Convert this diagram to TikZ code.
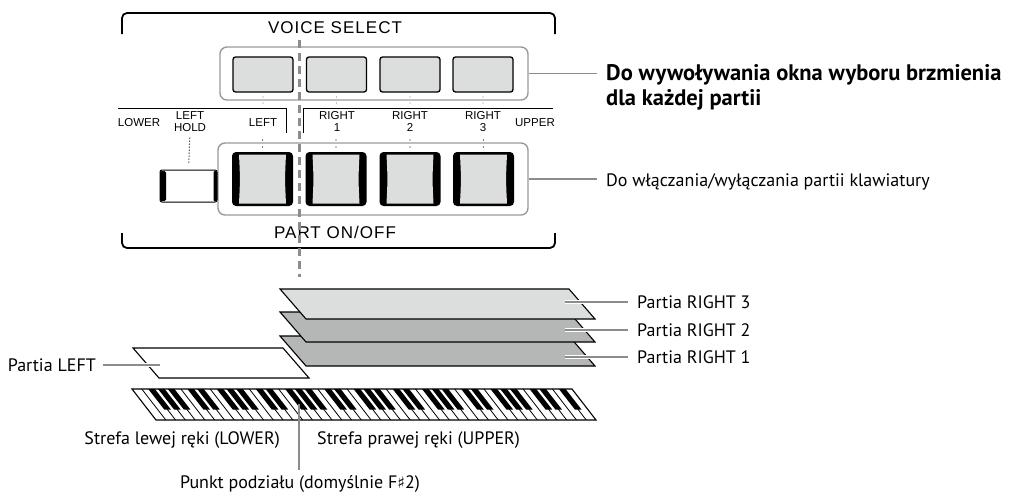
\documentclass[tikz,border=0pt]{standalone}
\usepackage{fontspec}
\setmainfont{PT Sans}
\newfontfamily\panelfont{Liberation Sans}
\newfontfamily\symfont{DejaVu Sans}
\definecolor{btngrey}{HTML}{DCDDDD}
\definecolor{layergrey}{HTML}{B5B6B6}
\definecolor{leadgrey}{HTML}{8C8C8C}
\definecolor{boxgrey}{HTML}{9A9A9A}
\begin{document}
\begin{tikzpicture}[x=1pt,y=-1pt,
  bracket/.style={line width=1.8pt,rounded corners=5pt},
  groupbox/.style={draw=boxgrey,line width=1.4pt,rounded corners=7pt},
  voicebtn/.style={draw,line width=1.3pt,fill=btngrey,rounded corners=2.5pt,
    minimum width=60pt,minimum height=35pt,inner sep=0pt},
  partbtn/.style={fill=black,rounded corners=4pt,minimum width=61pt,
    minimum height=54pt,inner sep=0pt},
  paneltitle/.style={font=\panelfont\fontsize{17}{20}\selectfont\addfontfeature{LetterSpace=6},inner sep=0pt},
  panellabel/.style={font=\panelfont\fontsize{11.5}{12}\selectfont,align=center,inner sep=0pt},
  desc/.style={font=\fontsize{18}{21}\selectfont,inner sep=0pt},
  leader/.style={draw=leadgrey,line width=1.4pt},
  halo/.style={draw=white,line width=4pt},
  layer/.style={draw=black,line width=1.1pt,line join=miter},
  dots/.style={line width=1pt,dash pattern=on 1pt off 2pt}
]
\useasboundingbox (0,0) rectangle (1012,498);

% ---------- panel brackets ----------
\draw[bracket] (122,34) -- (122,13) -- (555,13) -- (555,34);
\draw[bracket] (122,233) -- (122,248) -- (555,248) -- (555,233);
\node[paneltitle] (vs) at (335,28) {VOICE SELECT};
\node[paneltitle] (po) at (335,232) {PART ON/OFF};

% ---------- group frames ----------
\node[groupbox,minimum width=308pt,minimum height=53pt] (vgroup) at (374,73.5) {};
\node[groupbox,minimum width=310pt,minimum height=72pt] (pgroup) at (373,179) {};

% ---------- voice buttons ----------
\foreach \n/\x in {1/263,2/336.5,3/410,4/483}{
  \node[voicebtn] (v\n) at (\x,74.5) {};
  \fill[black!45] (\x,97) circle (0.7pt) (\x,103) circle (0.7pt);
}

% ---------- part labels ----------
\draw[line width=0.9pt] (118,108) -- (286,108) -- (286,133);
\draw[line width=0.9pt] (303,133) -- (303,108) -- (553,108);
\node[panellabel] (lLower) at (139,123) {LOWER};
\node[panellabel] (lHold)  at (190,121.5) {LEFT\\HOLD};
\node[panellabel] (lLeft)  at (263,123) {LEFT};
\node[panellabel] (lR1)    at (337,121.5) {RIGHT\\1};
\node[panellabel] (lR2)    at (410,121.5) {RIGHT\\2};
\node[panellabel] (lR3)    at (483,121.5) {RIGHT\\3};
\node[panellabel] (lUpper) at (535,123) {UPPER};

% ---------- part buttons ----------
\foreach \n/\x in {1/262.5,2/336,3/410,4/483.5}{
  \node[partbtn] (p\n) at (\x,179) {};
  \fill[btngrey] (\x-23.5,154.5) -- (\x+23.5,154.5)
     .. controls (\x+22.3,179) .. (\x+23.5,203.5)
     -- (\x-23.5,203.5) .. controls (\x-22.3,179) .. cycle;
  \fill (\x,140) circle (0.7pt) (\x,147) circle (0.7pt);
}

% ---------- LEFT HOLD button ----------
\node[draw,line width=1pt,fill=white,rounded corners=2pt,minimum width=57pt,
  minimum height=32pt,inner sep=0pt] (lh) at (188.5,186) {};
\fill[rounded corners=1.5pt] (160,171) rectangle (166,201);
\fill[rounded corners=1pt] (213.5,171) rectangle (217,201);
\draw[dots,shorten <=6pt,shorten >=5pt] (lHold.south) -- (lh.north);

% ---------- split marker ----------
\coordinate (sTop) at (299,40);
\coordinate (sBot) at (299,277);
\draw[leadgrey,line width=3pt,dash pattern=on 8pt off 5pt] (sTop) -- (sBot);

% ---------- callouts for the panel ----------
\node[font=\bfseries\fontsize{22.5}{25}\selectfont,align=left,anchor=west,inner sep=0pt]
  (tVoice) at (606,87.5) {Do wywoływania okna wyboru brzmienia\\dla każdej partii};
\node[desc,anchor=west] (tPart) at (606,182) {Do włączania/wyłączania partii klawiatury};
\draw[leader] (vgroup.east) -- (vgroup.east -| 597,0);
\draw[leader] (pgroup.east) -- (pgroup.east -| 597,0);

% ---------- voice layers ----------
\filldraw[layer,fill=layergrey] (280,336) -- (569,336) -- (595,366) -- (306,366) -- cycle;
\filldraw[layer,fill=layergrey] (280,312) -- (569,312) -- (595,342) -- (306,342) -- cycle;
\filldraw[layer,fill=btngrey]   (280,289) -- (569,289) -- (595,319) -- (306,319) -- cycle;
\filldraw[layer,fill=white]     (133,348) -- (283,348) -- (309,378) -- (159,378) -- cycle;

\node[desc,anchor=west] (tR3) at (637,302) {Partia RIGHT 3};
\node[desc,anchor=west] (tR2) at (637,330) {Partia RIGHT 2};
\node[desc,anchor=west] (tR1) at (637,357) {Partia RIGHT 1};
\node[desc,anchor=east] (tL)  at (96,365)  {Partia LEFT};

\coordinate (cR3) at (565,302);
\coordinate (cR2) at (565,330);
\coordinate (cR1) at (565,357);
\coordinate (cL)  at (160,365);
\foreach \c/\t in {cR3/tR3,cR2/tR2,cR1/tR1}{
  \draw[halo] (\c) -- (\t.west -| 596,0);
  \draw[leader] (\c) -- ([xshift=-9pt]\t.west);
}
\draw[halo] (cL) -- (137,365);
\draw[leader] ([xshift=7pt]tL.east) -- (cL);

% ---------- keyboard (76 keys, E0 to G6) ----------
\def\kw{9.7778}
\fill[white] (132,389) -- (572,389) -- (596,420) -- (156,420) -- cycle;
\foreach \i in {1,...,44}{
  \draw[line width=0.8pt] (132+\i*\kw,389) -- ++(24,31);
}
\foreach \i in {0,...,43}{
  \pgfmathtruncatemacro\m{mod(\i,7)}
  \ifnum\m=0\relax\else\ifnum\m=4\relax\else
    \pgfmathsetmacro\bx{132+(\i+1)*\kw}
    \fill (\bx-3.3,389) -- (\bx+3.3,389) -- ++(16,20.5) -- ++(-6.6,0) -- cycle;
  \fi\fi
}
\draw[line width=1.1pt,line join=miter] (132,389) -- (572,389) -- (596,420) -- (156,420) -- cycle;

\node[desc,anchor=east] (tLow) at (280,440) {Strefa lewej ręki (LOWER)};
\node[desc,anchor=west] (tUp)  at (317,440) {Strefa prawej ręki (UPPER)};
\node[desc] (tSplit) at (300,484) {Punkt podziału (domyślnie F{\symfont\fontsize{16}{18}\selectfont ♯}2)};
\coordinate (kSplit) at (299,404);
\draw[leader] (kSplit) -- ([yshift=5pt]tSplit.north -| kSplit);
\end{tikzpicture}
\end{document}
